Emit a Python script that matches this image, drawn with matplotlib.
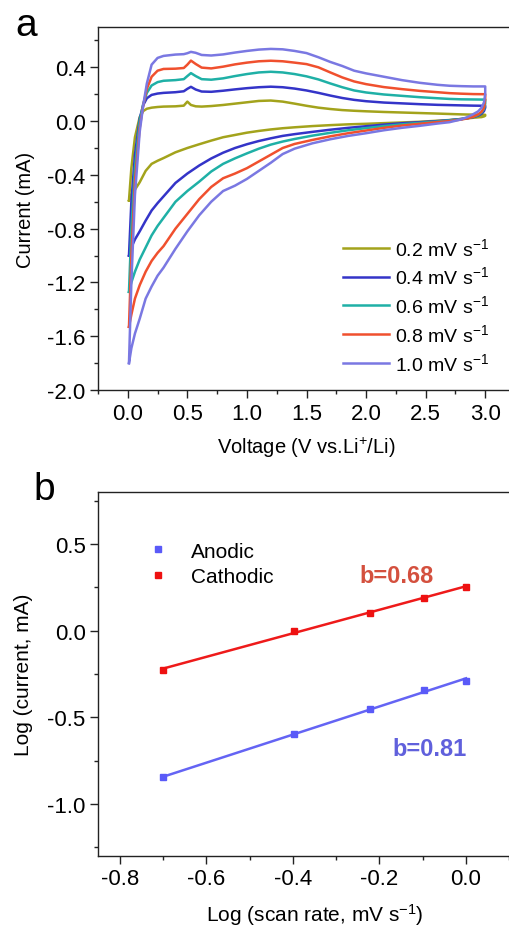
import numpy as np
import matplotlib
matplotlib.use('Agg')
import matplotlib.pyplot as plt
from matplotlib.ticker import MultipleLocator, FormatStrFormatter

plt.rcParams['font.family'] = ['Liberation Sans', 'DejaVu Sans']
plt.rcParams['mathtext.fontset'] = 'custom'
plt.rcParams['mathtext.rm'] = 'Liberation Sans'
plt.rcParams['mathtext.default'] = 'regular'
plt.rcParams['axes.unicode_minus'] = False

# ---- panel a: cyclic voltammograms ----
rate_labels = ['0.2', '0.4', '0.6', '0.8', '1.0']
cv_colors = ['#a3a31c', '#3434c8', '#1fb0a6', '#f0502e', '#7a78e2']

# anodic sweep (0 -> 3 V)
v_up = [0.01, 0.03, 0.06, 0.1, 0.13, 0.16, 0.2, 0.25, 0.3, 0.4, 0.47, 0.5, 0.53, 0.57,
        0.62, 0.7, 0.8, 0.9, 1.0, 1.1, 1.2, 1.3, 1.4, 1.5, 1.6, 1.7, 1.8, 1.9, 2.0,
        2.15, 2.3, 2.45, 2.6, 2.7, 2.8, 2.9, 3.0]
i_up_02 = [-0.59, -0.35, -0.12, 0.03, 0.075, 0.092, 0.10, 0.105, 0.108, 0.11, 0.115, 0.145,
           0.12, 0.11, 0.108, 0.112, 0.12, 0.13, 0.14, 0.15, 0.153, 0.145, 0.13, 0.114,
           0.10, 0.09, 0.082, 0.077, 0.073, 0.068, 0.064, 0.06, 0.056, 0.053, 0.05, 0.048, 0.047]
i_up_04 = [-1.0, -0.6, -0.25, 0.02, 0.12, 0.17, 0.195, 0.205, 0.21, 0.215, 0.222, 0.24,
           0.255, 0.235, 0.22, 0.218, 0.226, 0.236, 0.245, 0.252, 0.256, 0.252, 0.242, 0.228,
           0.21, 0.19, 0.172, 0.158, 0.148, 0.138, 0.132, 0.126, 0.121, 0.119, 0.117, 0.115, 0.114]
i_up_06 = [-1.27, -0.8, -0.35, 0.0, 0.13, 0.21, 0.265, 0.29, 0.30, 0.305, 0.312, 0.335,
           0.357, 0.335, 0.312, 0.308, 0.318, 0.335, 0.35, 0.362, 0.367, 0.362, 0.35, 0.333,
           0.31, 0.28, 0.252, 0.228, 0.213, 0.198, 0.188, 0.178, 0.17, 0.165, 0.162, 0.161, 0.16]
i_up_08 = [-1.53, -1.0, -0.45, -0.05, 0.12, 0.24, 0.33, 0.375, 0.388, 0.39, 0.395, 0.42,
           0.45, 0.425, 0.398, 0.392, 0.405, 0.422, 0.435, 0.445, 0.449, 0.445, 0.435, 0.424,
           0.40, 0.362, 0.325, 0.295, 0.275, 0.253, 0.238, 0.225, 0.215, 0.208, 0.204, 0.201, 0.20]
i_up_10 = [-1.8, -1.2, -0.55, -0.08, 0.12, 0.28, 0.42, 0.47, 0.485, 0.495, 0.498, 0.505,
           0.515, 0.508, 0.492, 0.488, 0.496, 0.51, 0.522, 0.532, 0.537, 0.534, 0.522, 0.506,
           0.475, 0.44, 0.41, 0.375, 0.355, 0.33, 0.305, 0.285, 0.27, 0.263, 0.26, 0.258, 0.258]

# cathodic sweep (3 -> 0 V)
v_down = [3.0, 2.99, 2.97, 2.94, 2.9, 2.85, 2.8, 2.7, 2.6, 2.45, 2.3, 2.15, 2.0, 1.85,
          1.7, 1.55, 1.4, 1.3, 1.2, 1.1, 1.0, 0.9, 0.8, 0.7, 0.6, 0.5, 0.4, 0.3, 0.25,
          0.2, 0.15, 0.1, 0.06, 0.03, 0.01]
i_down_02 = [0.04, 0.035, 0.03, 0.028, 0.025, 0.02, 0.016, 0.008, 0.003, -0.005, -0.01,
             -0.015, -0.02, -0.024, -0.03, -0.037, -0.046, -0.053, -0.062, -0.073, -0.086,
             -0.103, -0.12, -0.145, -0.172, -0.2, -0.232, -0.275, -0.295, -0.318, -0.37,
             -0.455, -0.51, -0.55, -0.59]
i_down_04 = [0.1, 0.075, 0.055, 0.04, 0.03, 0.022, 0.016, 0.007, 0.0, -0.008, -0.016,
             -0.026, -0.038, -0.05, -0.064, -0.08, -0.097, -0.11, -0.128, -0.148, -0.172,
             -0.2, -0.235, -0.278, -0.33, -0.39, -0.46, -0.56, -0.61, -0.665, -0.74,
             -0.82, -0.88, -0.94, -1.0]
i_down_06 = [0.13, 0.09, 0.065, 0.045, 0.032, 0.022, 0.015, 0.005, -0.003, -0.013, -0.024,
             -0.037, -0.052, -0.068, -0.087, -0.108, -0.133, -0.152, -0.175, -0.205, -0.24,
             -0.277, -0.318, -0.375, -0.45, -0.52, -0.6, -0.72, -0.78, -0.85, -0.94,
             -1.03, -1.12, -1.2, -1.27]
i_down_08 = [0.16, 0.1, 0.07, 0.05, 0.033, 0.02, 0.012, 0.0, -0.007, -0.02, -0.033,
             -0.05, -0.07, -0.09, -0.113, -0.14, -0.17, -0.2, -0.25, -0.3, -0.35,
             -0.39, -0.425, -0.49, -0.58, -0.69, -0.8, -0.93, -0.98, -1.04, -1.12,
             -1.22, -1.32, -1.44, -1.53]
i_down_10 = [0.2, 0.14, 0.1, 0.072, 0.052, 0.03, 0.013, -0.008, -0.018, -0.035, -0.05,
             -0.068, -0.09, -0.11, -0.135, -0.165, -0.205, -0.245, -0.31, -0.37, -0.43,
             -0.48, -0.52, -0.6, -0.7, -0.82, -0.95, -1.09, -1.15, -1.23, -1.32,
             -1.47, -1.58, -1.69, -1.8]

i_up = [i_up_02, i_up_04, i_up_06, i_up_08, i_up_10]
i_down = [i_down_02, i_down_04, i_down_06, i_down_08, i_down_10]

# ---- panel b: log(i) vs log(v) ----
log_rate = [-0.699, -0.398, -0.222, -0.097, 0.0]
log_i_anodic = [-0.846, -0.596, -0.452, -0.342, -0.288]
log_i_cathodic = [-0.225, 0.0, 0.102, 0.189, 0.254]

fig = plt.figure(figsize=(5.09, 9.29), dpi=100)
W, H = 509.0, 929.0

# panel a
ax = fig.add_axes([98 / W, 1 - 391 / H, 417 / W, 363 / H])
for lab, col, iu, idn in zip(rate_labels, cv_colors, i_up, i_down):
    v = list(v_up) + list(v_down)
    cur = list(iu) + list(idn)
    ax.plot(v, cur, color=col, lw=1.8, label=lab + ' mV s$^{-1}$')
ax.set_xlim(-0.25, 3.25)
ax.set_ylim(-2.0, 0.7)
ax.xaxis.set_major_locator(MultipleLocator(0.5))
ax.xaxis.set_minor_locator(MultipleLocator(0.25))
ax.yaxis.set_major_locator(MultipleLocator(0.4))
ax.yaxis.set_minor_locator(MultipleLocator(0.2))
ax.xaxis.set_major_formatter(FormatStrFormatter('%.1f'))
ax.yaxis.set_major_formatter(FormatStrFormatter('%.1f'))
ax.set_xlabel('Voltage (V vs.Li$^{+}$/Li)', fontsize=14.5, labelpad=8)
ax.set_ylabel('Current (mA)', fontsize=14.5, labelpad=9)
leg = ax.legend(loc='upper left', bbox_to_anchor=(0.545, 0.47), frameon=False,
                fontsize=14, handlelength=2.4, handletextpad=0.3, labelspacing=0.35)
fig.text(15 / W, 1 - 36 / H, 'a', fontsize=28)

# panel b
bx = fig.add_axes([98 / W, 1 - 857 / H, 433 / W, 364 / H])
ka, ca = np.polyfit(log_rate, log_i_anodic, 1)
kc, cc = np.polyfit(log_rate, log_i_cathodic, 1)
xr = np.array([log_rate[0], log_rate[-1]])
bx.plot(xr, kc * xr + cc, color='#ee1a1a', lw=1.8)
bx.plot(xr, ka * xr + ca, color='#6464f4', lw=1.8)
bx.plot(log_rate, log_i_anodic, 's', color='#5a5af8', ms=5, label='Anodic')
bx.plot(log_rate, log_i_cathodic, 's', color='#ee1111', ms=5, label='Cathodic')
bx.set_xlim(-0.85, 0.15)
bx.set_ylim(-1.3, 0.8)
bx.xaxis.set_major_locator(MultipleLocator(0.2))
bx.xaxis.set_minor_locator(MultipleLocator(0.1))
bx.yaxis.set_major_locator(MultipleLocator(0.5))
bx.yaxis.set_minor_locator(MultipleLocator(0.25))
bx.xaxis.set_major_formatter(FormatStrFormatter('%.1f'))
bx.yaxis.set_major_formatter(FormatStrFormatter('%.1f'))
bx.set_xlabel('Log (scan rate, mV s$^{-1}$)', fontsize=15, labelpad=8)
bx.set_ylabel('Log (current, mA)', fontsize=15, labelpad=10)
bx.legend(loc='upper left', bbox_to_anchor=(0.06, 0.915), frameon=False, fontsize=15,
          handlelength=1.5, handletextpad=0.8, labelspacing=0.3)
bx.text(-0.247, 0.283, 'b=0.68', color='#d4503e', fontsize=17, fontweight='bold')
bx.text(-0.171, -0.717, 'b=0.81', color='#6060dc', fontsize=17, fontweight='bold')
fig.text(33 / W, 1 - 500 / H, 'b', fontsize=28)

for a in (ax, bx):
    a.spines['right'].set_visible(False)
    for s in ('left', 'bottom', 'top'):
        a.spines[s].set_linewidth(1.0)
        a.spines[s].set_color('#222222')
    a.tick_params(which='major', direction='out', length=5.5, width=1.0, labelsize=16,
                  top=False, right=False, colors='#222222', labelcolor='black')
    a.tick_params(which='minor', direction='out', length=3, width=1.0,
                  top=False, right=False, colors='#222222')

fig.savefig('out.png', dpi=100)
